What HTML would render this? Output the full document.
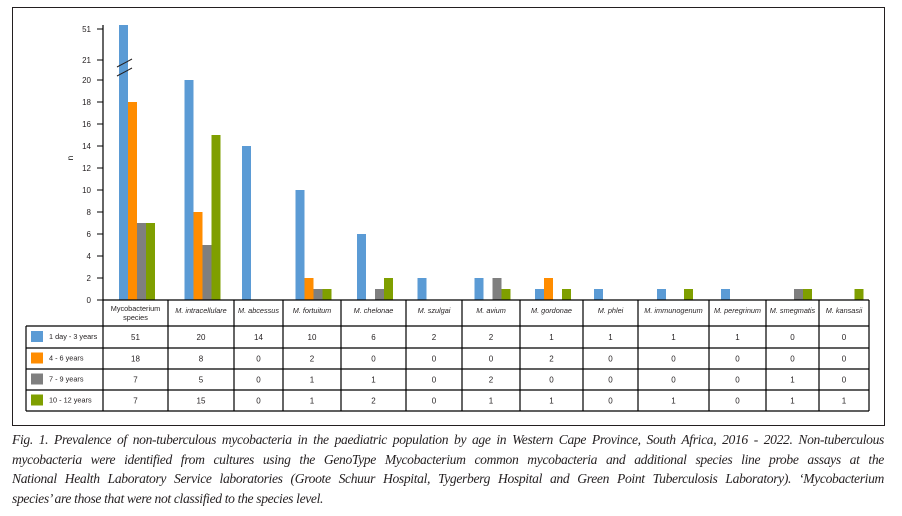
<!DOCTYPE html>
<html><head><meta charset="utf-8"><style>
body{margin:0;background:#fff;width:902px;height:516px;overflow:hidden;font-family:"Liberation Sans",sans-serif}
#frame{position:absolute;left:12px;top:7px;width:871px;height:417px;border:1.5px solid #231f20}
#cap{position:absolute;left:12px;top:430px;width:872px;font-family:"Liberation Serif",serif;font-style:italic;font-size:13.6px;letter-spacing:-0.35px;line-height:19.6px;color:#231f20}
#cap div{text-align:justify;text-align-last:justify;white-space:nowrap;overflow:hidden}
#cap div.last{text-align-last:left}
</style></head><body>
<div id="frame"></div>
<svg id="chart" width="902" height="516" style="position:absolute;left:0;top:0"></svg>
<div id="cap">
<div>Fig. 1. Prevalence of non-tuberculous mycobacteria in the paediatric population by age in Western Cape Province, South Africa, 2016 - 2022. Non-tuberculous</div>
<div>mycobacteria were identified from cultures using the GenoType Mycobacterium common mycobacteria and additional species line probe assays at the</div>
<div>National Health Laboratory Service laboratories (Groote Schuur Hospital, Tygerberg Hospital and Green Point Tuberculosis Laboratory). ‘Mycobacterium</div>
<div class="last">species’ are those that were not classified to the species level.</div>
</div>
<script>
const categories=["Mycobacterium species","M. intracellulare","M. abcessus","M. fortuitum","M. chelonae","M. szulgai","M. avium","M. gordonae","M. phlei","M. immunogenum","M. peregrinum","M. smegmatis","M. kansasii"];
const seriesNames=["1 day - 3 years","4 - 6 years","7 - 9 years","10 - 12 years"];
const s1=[51,20,14,10,6,2,2,1,1,1,1,0,0];
const s2=[18,8,0,2,0,0,0,2,0,0,0,0,0];
const s3=[7,5,0,1,1,0,2,0,0,0,0,1,0];
const s4=[7,15,0,1,2,0,1,1,0,1,0,1,1];
const yTicks=[0,2,4,6,8,10,12,14,16,18,20,21,51];
const colors=["#5b9bd5","#ff8c00","#7f7f7f","#7f9f00"];
const series=[s1,s2,s3,s4];
const svg=document.getElementById('chart');const NS="http://www.w3.org/2000/svg";
function mk(t,a,p){const e=document.createElementNS(NS,t);for(const k in a)e.setAttribute(k,a[k]);(p||svg).appendChild(e);return e;}
const colEdges=[103,168,234,283,341,406,462,520,583,638,709,766,819,869];
function y(v){if(v<=20)return 300-v*11;if(v<=21)return 80-(v-20)*20;return 60-(v-21)*(34/30);}
const ax=103;
const axis=mk('line',{x1:ax,y1:25,x2:ax,y2:300,stroke:'#000','stroke-width':1.2});

yTicks.forEach(t=>{const yy=t===51?29:y(t);
mk('line',{x1:ax-6,y1:yy,x2:ax,y2:yy,stroke:'#000','stroke-width':1});
const tx=mk('text',{x:ax-12,y:yy+3,'text-anchor':'end','font-size':8,fill:'#231f20'});tx.textContent=t;
});
const yl=mk('text',{x:73,y:158,'font-size':8,transform:'rotate(-90 73 158)','text-anchor':'middle'});yl.textContent='n';

const bw=9;
categories.forEach((c,i)=>{const cx=(colEdges[i]+colEdges[i+1])/2+1.5;const x0=cx-2*bw;
series.forEach((s,j)=>{const v=s[i];if(v<=0)return;const top=v>21?25:y(v);
const r=mk('rect',{x:x0+j*bw,y:top,width:bw,height:300-top,fill:colors[j]});
});});
mk('line',{x1:117,y1:67,x2:132,y2:59,stroke:'#231f20','stroke-width':1});
mk('line',{x1:117,y1:76,x2:132,y2:68,stroke:'#231f20','stroke-width':1});
const rows=[300,326,348,369,390,411];
const L=26,R=869,st={stroke:'#000','stroke-width':1.2};
mk('line',Object.assign({x1:ax,y1:300,x2:R,y2:300},st));
for(let k=1;k<rows.length;k++)mk('line',Object.assign({x1:L,y1:rows[k],x2:R,y2:rows[k]},st));
mk('line',Object.assign({x1:L,y1:326,x2:L,y2:411},st));
colEdges.forEach(x=>mk('line',Object.assign({x1:x,y1:300,x2:x,y2:411},st)));
categories.forEach((c,i)=>{const cx=(colEdges[i]+colEdges[i+1])/2;
const t=mk('text',{x:cx,y:i===0?311:313,'text-anchor':'middle','font-size':7.3,'font-style':i===0?'normal':'italic',fill:'#231f20'});

if(i===0){t.textContent='Mycobacterium';const t2=mk('text',{x:cx,y:320,'text-anchor':'middle','font-size':7.3,fill:'#231f20'});t2.textContent='species';}
else t.textContent=c;});
series.forEach((s,j)=>{const ry=(rows[j+1]+rows[j+2])/2;
const sw=mk('rect',{x:31,y:ry-6,width:12,height:11,fill:colors[j]});

const lt=mk('text',{x:49,y:ry+2,'font-size':7.3,fill:'#231f20'});lt.textContent=seriesNames[j];

s.forEach((v,i)=>{const cx=(colEdges[i]+colEdges[i+1])/2;
const vt=mk('text',{x:cx,y:ry+3,'text-anchor':'middle','font-size':8,fill:'#231f20'});vt.textContent=v;
});});
</script>
</body></html>
